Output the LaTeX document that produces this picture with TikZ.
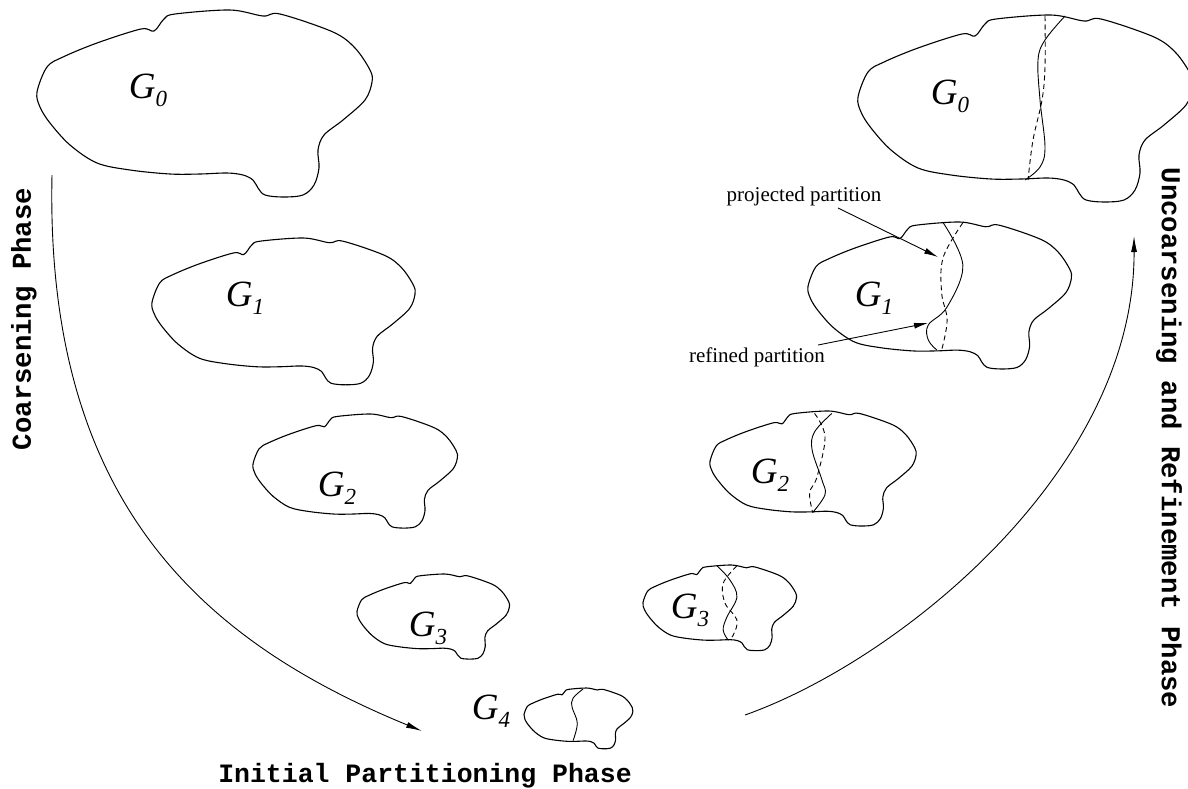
\documentclass[tikz,border=0pt]{standalone}
\usepackage{fontspec}
\setmainfont{Liberation Serif}
\newfontfamily\phasefont{Liberation Mono}
\usetikzlibrary{arrows.meta}

% outline of one graph, in local units (the largest graph is drawn at scale 1)
\def\blobshape{plot[smooth cycle, tension=0.55] coordinates {
  (0,82) (3,97) (13,113) (33,135) (60,153) (93,160) (133,164) (163,164)
  (190,163) (206,165) (216,170) (221,178) (228,185) (246,187) (266,185)
  (277,175) (282,158) (281,140) (287,125) (306,110) (328,90) (335,72)
  (333,60) (318,38) (296,22) (243,4) (226,6) (193,0) (138,4) (127,9)
  (117,21) (104,19) (60,33) (26,47) (10,57)}}

\newcommand\glab[1]{G\raisebox{-0.22em}{\fontsize{23}{25}\selectfont\itshape #1}}

\begin{document}
\begin{tikzpicture}[x=1pt,y=-1pt,
  outline/.style={line width=1.1pt, line join=round},
  cutsolid/.style={line width=0.9pt},
  cutdash/.style={line width=0.9pt, dash pattern=on 5pt off 3.5pt},
  glabel/.style={font=\fontsize{37}{40}\selectfont\itshape, inner sep=0pt},
  phase/.style={font=\phasefont\bfseries\fontsize{26.5}{30}\selectfont, inner sep=0pt},
  vphase/.style={font=\phasefont\bfseries\fontsize{27.3}{30}\selectfont, inner sep=0pt},
  note/.style={font=\fontsize{21}{24}\selectfont, inner sep=0pt},
  flow/.style={line width=0.9pt, -{Latex[length=16pt,width=6pt]}},
  pointer/.style={line width=0.9pt, -{Latex[length=14pt,width=6pt]}}]
\useasboundingbox (0,0) rectangle (1188,788);
\clip (0,0) rectangle (1188,788);

% ---- coarsening side ----
\begin{scope}[shift={(37,10)}]
  \draw[outline] \blobshape;
\end{scope}
\begin{scope}[shift={(152,238)},scale=0.785]
  \draw[outline] \blobshape;
\end{scope}
\begin{scope}[shift={(253,414)},scale=0.61]
  \draw[outline] \blobshape;
\end{scope}
\begin{scope}[shift={(357,574)},scale=0.455]
  \draw[outline] \blobshape;
\end{scope}

% ---- coarsest graph with its initial partition ----
\begin{scope}[shift={(524,688)},scale=0.325]
  \draw[outline] \blobshape;
  \draw[cutsolid] plot[smooth, tension=0.6] coordinates {(182,3) (151,31) (148,59) (164,108) (151,162)};
\end{scope}

% ---- uncoarsening side: projected (dashed) and refined (solid) cuts ----
\begin{scope}[shift={(643,565)},scale=0.458]
  \draw[outline] \blobshape;
  \draw[cutsolid] plot[smooth, tension=0.6] coordinates {(162,2) (190,33) (205,70) (183,114) (175,142) (186,164)};
  \draw[cutdash] plot[smooth, tension=0.6] coordinates {(205,2) (175,40) (179,83) (205,120) (197,153) (186,164)};
\end{scope}
\begin{scope}[shift={(710,411)},scale=0.615]
  \draw[outline] \blobshape;
  \draw[cutsolid] plot[smooth, tension=0.6] coordinates {(198,4) (170,34) (166,63) (182,112) (187,136) (167,165)};
  \draw[cutdash] plot[smooth, tension=0.6] coordinates {(170,4) (187,42) (174,107) (162,133) (167,165)};
\end{scope}
\begin{scope}[shift={(808,222)},scale=0.786]
  \draw[outline] \blobshape;
  \draw[cutsolid] plot[smooth, tension=0.6] coordinates {(172,1) (197,55) (177,108) (153,131) (153,150) (164,163)};
  \draw[cutdash] plot[smooth, tension=0.6] coordinates {(197,1) (172,45) (170,90) (177,125) (170,163)};
\end{scope}
\begin{scope}[shift={(858,15)}]
  \draw[outline] \blobshape;
  \draw[cutsolid] plot[smooth, tension=0.6] coordinates {(207,1) (187,25) (180,45) (182,85) (187,132) (182,152) (167,165)};
  \draw[cutdash] plot[smooth, tension=0.6] coordinates {(187,1) (187,52) (184,85) (175,125) (170,165)};
\end{scope}

% ---- graph names ----
\node[glabel] (g0l) at (148,90) {\glab{0}};
\node[glabel] (g1l) at (245,298) {\glab{1}};
\node[glabel] (g2l) at (337,488) {\glab{2}};
\node[glabel] (g3l) at (428,628) {\glab{3}};
\node[glabel] (g4) at (491,711) {\glab{4}};
\node[glabel] (g3r) at (690,610) {\glab{3}};
\node[glabel] (g2r) at (770,475) {\glab{2}};
\node[glabel] (g1r) at (874,298) {\glab{1}};
\node[glabel] (g0r) at (950,96) {\glab{0}};

% ---- phase names ----
\node[vphase, rotate=90] (coarse) at (24,319) {Coarsening Phase};
\node[phase] (initial) at (425,776) {Initial Partitioning Phase};
\node[vphase, rotate=-90] (uncoarse) at (1169,438) {Uncoarsening and Refinement Phase};

% ---- flow arrows ----
\coordinate (cstart) at (52,175);
\coordinate (cend) at (422,731);
\coordinate (ustart) at (745,715);
\coordinate (uend) at (1134,236);
\draw[flow] (cstart) .. controls (45,500) and (200,640) .. (cend);
\draw[flow] (ustart) .. controls (900,660) and (1135,470) .. (uend);

% ---- partition notes ----
\node[note] (proj) at (804,196) {projected partition};
\node[note] (refi) at (757,357) {refined partition};
\coordinate (projtip) at (938,257);
\coordinate (refitip) at (928,323);
\draw[pointer] (838,208) -- (projtip);
\draw[pointer] (818,345) -- (refitip);
\end{tikzpicture}
\end{document}
